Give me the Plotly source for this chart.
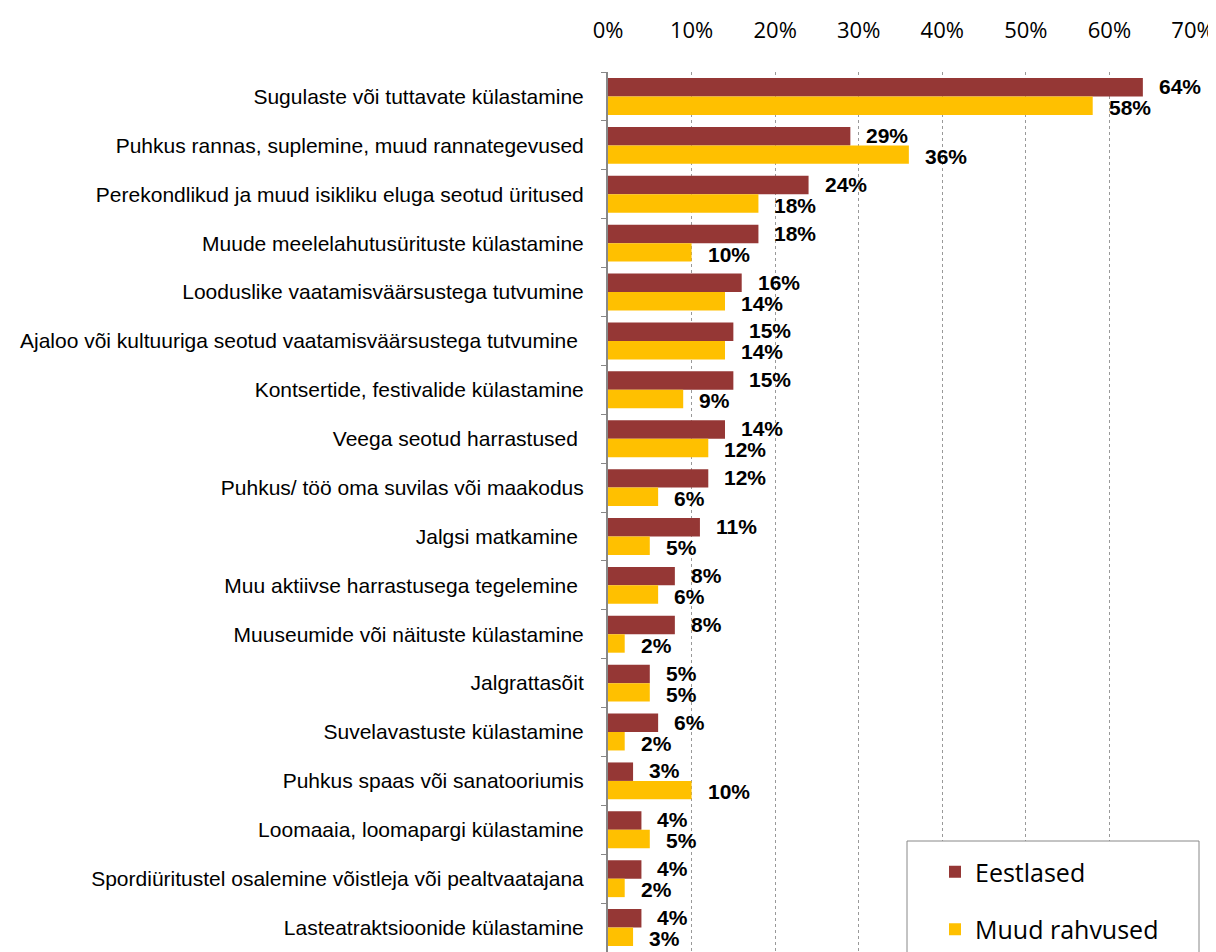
import plotly.graph_objects as go

categories = [
    "Sugulaste või tuttavate külastamine",
    "Puhkus rannas, suplemine, muud rannategevused",
    "Perekondlikud ja muud isikliku eluga seotud üritused",
    "Muude meelelahutusürituste külastamine",
    "Looduslike vaatamisväärsustega tutvumine",
    "Ajaloo või kultuuriga seotud vaatamisväärsustega tutvumine ",
    "Kontsertide, festivalide külastamine",
    "Veega seotud harrastused ",
    "Puhkus/ töö oma suvilas või maakodus",
    "Jalgsi matkamine ",
    "Muu aktiivse harrastusega tegelemine ",
    "Muuseumide või näituste külastamine",
    "Jalgrattasõit",
    "Suvelavastuste külastamine",
    "Puhkus spaas või sanatooriumis",
    "Loomaaia, loomapargi külastamine",
    "Spordiüritustel osalemine võistleja või pealtvaatajana",
    "Lasteatraktsioonide külastamine",
]
eestlased = [0.64, 0.29, 0.24, 0.18, 0.16, 0.15, 0.15, 0.14, 0.12, 0.11,
             0.08, 0.08, 0.05, 0.06, 0.03, 0.04, 0.04, 0.04]
muud = [0.58, 0.36, 0.18, 0.10, 0.14, 0.14, 0.09, 0.12, 0.06, 0.05,
        0.06, 0.02, 0.05, 0.02, 0.10, 0.05, 0.02, 0.03]
x_ticks = [0, 0.1, 0.2, 0.3, 0.4, 0.5, 0.6, 0.7]

# page body adds an 8px margin, so work in figure coords = screen - 8
OFF = 8
W, H = 1216 - OFF, 952 - OFF
PL, PR, PT, PB = 608 - OFF, 1193 - OFF, 72 - OFF, 952 - OFF
label_font = dict(family="Liberation Sans, Arial", size=21, color="black", weight="bold")

fig = go.Figure()
for name, vals, color in [("Eestlased", eestlased, "#953735"),
                          ("Muud rahvused", muud, "#FFC000")]:
    fig.add_trace(go.Bar(
        y=categories, x=vals, name=name, orientation="h",
        marker=dict(color=color, line=dict(width=0)),
        legendgroup=name,
    ))

# data labels (Excel-style placement: slightly above / below the bar pair)
for cat, a, b in zip(categories, eestlased, muud):
    fig.add_annotation(x=a, y=cat, text=f"{a:.0%}", showarrow=False,
                       xanchor="left", xshift=14, yshift=10, font=label_font)
    fig.add_annotation(x=b, y=cat, text=f"{b:.0%}", showarrow=False,
                       xanchor="left", xshift=14, yshift=-11, font=label_font)

# legend box (runs off the bottom of the picture like the original)
fig.add_shape(type="rect", xref="paper", yref="paper",
              x0=(907 - OFF - PL) / (PR - PL), x1=(1199 - OFF - PL) / (PR - PL),
              y0=-0.1, y1=(PB - (841 - OFF)) / (PB - PT),
              line=dict(color="#888888", width=1), fillcolor="white", layer="above")

fig.update_layout(
    width=W, height=H,
    margin=dict(l=PL, r=W - PR, t=PT, b=H - PB),
    plot_bgcolor="white", paper_bgcolor="white",
    barmode="group", bargap=0.245, bargroupgap=0,
    font=dict(family="Liberation Sans, Arial", color="black"),
    legend=dict(
        x=(935 - OFF - PL) / (PR - PL), xanchor="left",
        y=(PB - (849 - OFF)) / (PB - PT), yanchor="top",
        bgcolor="rgba(0,0,0,0)", borderwidth=0,
        font=dict(family="Open Sans", size=25, color="black"),
        tracegroupgap=22,
    ),
)
fig.update_xaxes(
    side="top", range=[0, 0.7], tickvals=x_ticks, tickformat=".0%",
    showgrid=True, gridcolor="#999999", griddash="dot", gridwidth=1,
    showline=False, zeroline=False, ticks="", automargin=False,
    tickfont=dict(family="Open Sans", size=22, color="black"),
    ticklabelstandoff=29,
)
fig.update_yaxes(
    autorange="reversed", showline=True, linecolor="#888888", linewidth=2,
    ticks="outside", ticklen=5, tickcolor="#888888", tickson="boundaries",
    showgrid=False, automargin=False,
    tickfont=dict(family="Liberation Sans, Arial", size=21, color="black"),
    ticklabelstandoff=18,
)

fig.write_html("out.html")
